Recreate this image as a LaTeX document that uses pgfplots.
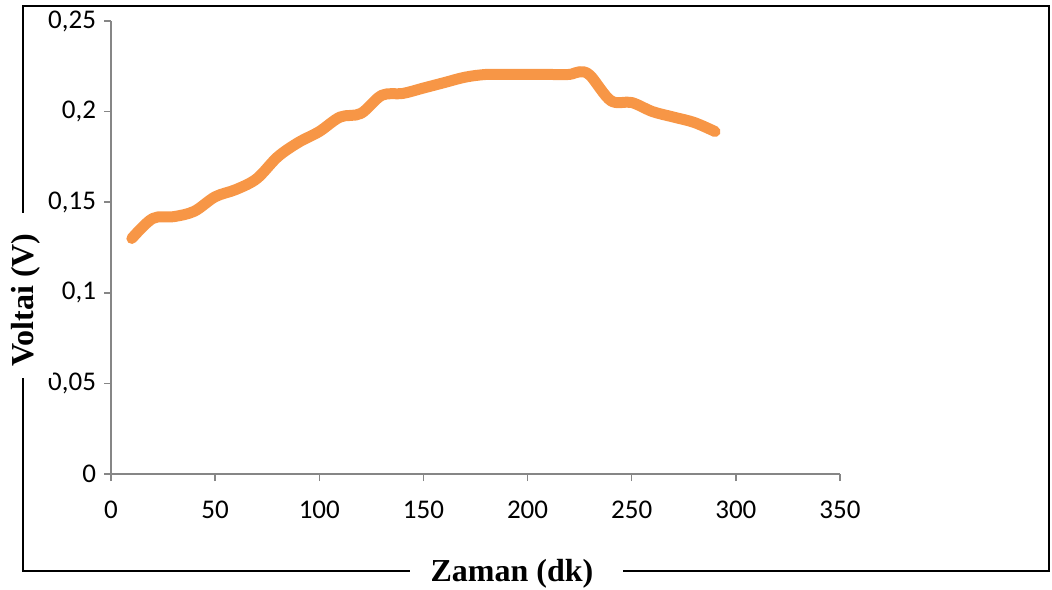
\documentclass[border=0pt]{standalone}
\usepackage{pgfplots}
\pgfplotsset{compat=1.18}
\usepackage{fontspec}
\setmainfont{Carlito}
\newfontfamily\timesfont{Liberation Serif}
\definecolor{lineorange}{HTML}{F79646}
\definecolor{axisgrey}{HTML}{868686}
\begin{document}
\begin{tikzpicture}[x=0.5bp,y=-0.5bp]
\useasboundingbox (0,0) rectangle (1052,590);
\begin{axis}[
  at={(55.5bp,-237bp)}, anchor=south west,
  scale only axis, width=364.5bp, height=226.5bp,
  xmin=0, xmax=350, ymin=0, ymax=0.25,
  axis x line*=bottom, axis y line*=left,
  axis line style={axisgrey, line width=0.75bp, -},
  tick style={axisgrey, line width=0.75bp},
  tick align=outside, major tick length=3.5bp,
  xtick={0,50,100,150,200,250,300,350},
  xticklabels={0,50,100,150,200,250,300,350},
  ytick={0,0.05,0.1,0.15,0.2,0.25},
  yticklabels={0,{0,05},{0,1},{0,15},{0,2},{0,25}},
  ticklabel style={font=\fontsize{13.5bp}{15bp}\selectfont, text=black},
  xticklabel style={yshift=-6.5bp},
  yticklabel style={xshift=-0.5bp},
  clip=false,
]
\addplot[lineorange, line width=5.5bp, line cap=round, line join=round, smooth, tension=0.55] coordinates {
(10,0.130) (20,0.141) (30,0.142) (40,0.145) (50,0.153) (60,0.157) (70,0.163)
(80,0.175) (90,0.183) (100,0.189) (110,0.197) (120,0.199) (130,0.209) (140,0.210)
(150,0.213) (160,0.216) (170,0.219) (180,0.2205) (190,0.2205) (200,0.2205) (210,0.2205)
(220,0.2205) (225,0.222) (230,0.220) (240,0.206) (250,0.205) (260,0.200) (270,0.197)
(280,0.194) (290,0.189)
};
\end{axis}
\draw[black, line width=1bp] (23,6) rectangle (1049,571);
\fill[white] (0,213) rectangle (53,378);
\fill[white] (410,560) rectangle (623,582);
\node[anchor=base, rotate=90, inner sep=0pt, font=\timesfont\bfseries\fontsize{16bp}{18bp}\selectfont] at (33,300) {Voltai (V)};
\node[anchor=base, inner sep=0pt, font=\timesfont\bfseries\fontsize{16bp}{18bp}\selectfont] at (512,582) {Zaman (dk)};
\end{tikzpicture}
\end{document}
